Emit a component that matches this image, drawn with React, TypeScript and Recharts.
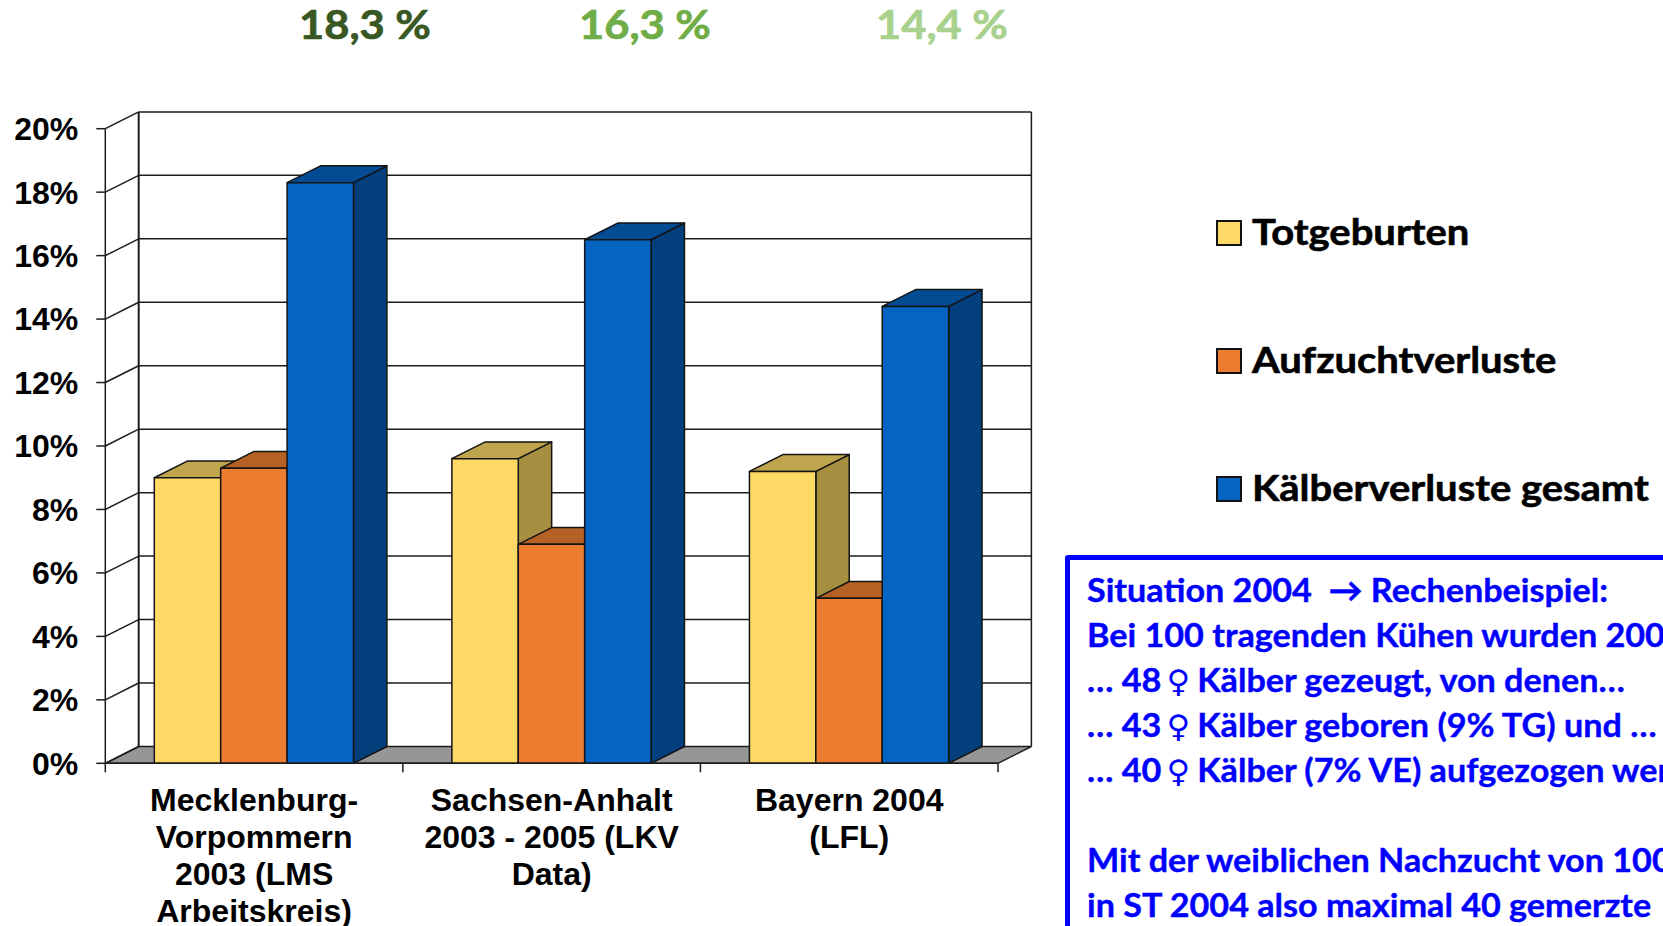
import { BarChart, Bar, XAxis, YAxis, CartesianGrid, Legend } from "recharts";

const categoryLines = [
  ["Mecklenburg-", "Vorpommern", "2003 (LMS", "Arbeitskreis)"],
  ["Sachsen-Anhalt", "2003 - 2005 (LKV", "Data)"],
  ["Bayern 2004", "(LFL)"],
];
const categories = categoryLines.map((l) => l.join(" "));
const totgeburten = [9.0, 9.6, 9.2];
const aufzucht = [9.3, 6.9, 5.2];
const gesamt = [18.3, 16.5, 14.4];
const yTicks = [0, 2, 4, 6, 8, 10, 12, 14, 16, 18, 20];

const topLabels = ["18,3 %", "16,3 %", "14,4 %"];
const topColors = ["#385723", "#70AD47", "#A9D18E"];
const topCenters = [365, 645, 942];

const boxLines = [
  "Situation 2004  → Rechenbeispiel:",
  "Bei 100 tragenden Kühen wurden 2004",
  "… 48 ♀ Kälber gezeugt, von denen…",
  "… 43 ♀ Kälber geboren (9% TG) und …",
  "… 40 ♀ Kälber (7% VE) aufgezogen werden.",
  "\u00a0",
  "Mit der weiblichen Nachzucht von 100",
  "in ST 2004 also maximal 40 gemerzte",
];

const data = categories.map((name, i) => ({
  name,
  totgeburten: totgeburten[i],
  aufzucht: aufzucht[i],
  gesamt: gesamt[i],
}));

// depth of the fake 3D
const DX = 33.4;
const DY = 16.8;
const LINE = "#1c1c1c";
const ARIAL = "'Liberation Sans', Arial, sans-serif";
const LATO = "Lato, sans-serif";

const box3d = (top: string, side: string) => (props: any) => {
  const { x, y, width: w, height: h, fill } = props;
  return (
    <g stroke="#141414" strokeWidth={1.5} strokeLinejoin="round">
      <polygon fill={side} points={`${x + w},${y} ${x + w + DX},${y - DY} ${x + w + DX},${y + h - DY} ${x + w},${y + h}`} />
      <polygon fill={top} points={`${x},${y} ${x + DX},${y - DY} ${x + w + DX},${y - DY} ${x + w},${y}`} />
      <rect x={x} y={y} width={w} height={h} fill={fill} />
    </g>
  );
};

function wallLine(p: any) {
  const { x1, x2, y1, x, y, width, height, index } = p;
  const isFloor = Math.abs(y1 - (y + height)) < 0.5;
  return (
    <g key={`wall-${index}`} stroke={LINE} strokeWidth={1.5} fill="none">
      {isFloor && (
        <>
          <polygon
            fill="#969696"
            points={`${x},${y1} ${x + DX},${y1 - DY} ${x + width + DX},${y1 - DY} ${x + width},${y1}`}
          />
          <line x1={x + DX} y1={y - DY} x2={x + DX} y2={y1 - DY} strokeWidth={2} />
          <line x1={x + width + DX} y1={y - DY} x2={x + width + DX} y2={y1 - DY} />
        </>
      )}
      {!isFloor && <line x1={x1 + DX} y1={y1 - DY} x2={x2 + DX} y2={y1 - DY} />}
      <line x1={x1} y1={y1} x2={x1 + DX} y2={y1 - DY} />
    </g>
  );
}

function CategoryTick(props: any) {
  const { x, y, index, width } = props;
  const half = width / categories.length / 2;
  const base = y - 8; // axis line, tick y already has the default gap in it
  return (
    <g>
      <line x1={x - half} y1={base} x2={x - half} y2={base + 9} stroke={LINE} strokeWidth={1.5} />
      {index === categories.length - 1 && (
        <line x1={x + half} y1={base} x2={x + half} y2={base + 9} stroke={LINE} strokeWidth={1.5} />
      )}
      <text textAnchor="middle" fontFamily={ARIAL} fontWeight={700} fontSize={32} fill="#000">
        {categoryLines[index].map((t, i) => (
          <tspan key={t} x={x} y={base + 47.5 + i * 37}>
            {t}
          </tspan>
        ))}
      </text>
    </g>
  );
}

function LegendBlock({ payload }: any) {
  return (
    <div>
      {payload.map((e: any) => (
        <div key={e.value} style={{ display: "flex", alignItems: "center", height: 128, lineHeight: "128px" }}>
          <span
            style={{
              width: 22,
              height: 22,
              border: "2px solid #111",
              background: e.color,
              marginRight: 10,
              display: "inline-block",
            }}
          />
          <span
            style={{
              fontFamily: LATO,
              fontWeight: 700,
              fontSize: 37,
              color: "#000",
              whiteSpace: "nowrap",
              transform: "scaleX(1.08) translateY(-2px)",
              transformOrigin: "left center",
              WebkitTextStroke: "0.6px #000",
            }}
          >
            {e.value}
          </span>
        </div>
      ))}
    </div>
  );
}

function BoxLine({ text }: { text: string }) {
  const parts = text.split("♀");
  return (
    <div style={{ height: 45 }}>
      {parts.map((part, i) => (
        <span key={i}>
          {i > 0 && (
            <span
              style={{
                fontFamily: "'DejaVu Sans'",
                fontWeight: 400,
                fontSize: 31,
                lineHeight: "1px",
                marginLeft: -3,
                marginRight: -1,
                WebkitTextStroke: "0",
              }}
            >
              ♀
            </span>
          )}
          {part}
        </span>
      ))}
    </div>
  );
}

export default function App() {
  return (
    <div style={{ position: "absolute", left: 0, top: 0, width: 1663, height: 926, overflow: "hidden", background: "#fff" }}>
      {topLabels.map((t, i) => (
        <div
          key={t}
          style={{
            position: "absolute",
            left: topCenters[i] - 100,
            width: 200,
            top: 1,
            textAlign: "center",
            fontFamily: LATO,
            fontWeight: 700,
            fontSize: 41,
            lineHeight: "46px",
            color: topColors[i],
            transform: "scaleX(1.06)",
            WebkitTextStroke: `0.7px ${topColors[i]}`,
          }}
        >
          {t}
        </div>
      ))}

      <BarChart
        width={1663}
        height={926}
        data={data}
        margin={{ top: 128.7, right: 665, left: 0, bottom: 0 }}
        barSize={66.4}
        barGap={0}
      >
        <CartesianGrid vertical={false} horizontal={wallLine} />
        <XAxis dataKey="name" height={162.7} interval={0} tick={<CategoryTick />} tickLine={false} axisLine={{ stroke: LINE, strokeWidth: 1.5 }} />
        <YAxis
          width={105.3}
          domain={[0, 20]}
          ticks={yTicks}
          interval={0}
          tickSize={9}
          tickMargin={18}
          tickFormatter={(v) => `${v}%`}
          tick={{ fontFamily: ARIAL, fontWeight: 700, fontSize: 32, fill: "#000" }}
          tickLine={{ stroke: LINE, strokeWidth: 1.5 }}
          axisLine={{ stroke: LINE, strokeWidth: 1.5 }}
        />
        <Legend
          layout="horizontal"
          verticalAlign="middle"
          align="center"
          itemSorter={null}
          content={<LegendBlock />}
          wrapperStyle={{ left: 1216, top: 169, width: 447, height: 384 }}
        />
        <Bar dataKey="totgeburten" name="Totgeburten" fill="#FFD966" isAnimationActive={false} shape={box3d("#BFA54D", "#A68F40")} />
        <Bar dataKey="aufzucht" name="Aufzuchtverluste" fill="#ED7D31" isAnimationActive={false} shape={box3d("#B56024", "#A4571F")} />
        <Bar dataKey="gesamt" name="Kälberverluste gesamt" fill="#0563C1" isAnimationActive={false} shape={box3d("#034C94", "#033F7D")} />
      </BarChart>

      <div
        style={{
          position: "absolute",
          left: 1065,
          top: 555,
          width: 800,
          height: 600,
          border: "5px solid #0000FF",
          borderRadius: 3,
        }}
      />
      <div
        style={{
          position: "absolute",
          left: 1087,
          top: 567,
          fontFamily: LATO,
          fontWeight: 700,
          fontSize: 33,
          lineHeight: "45px",
          color: "#0000FF",
          whiteSpace: "pre",
          transform: "scaleX(1.035)",
          transformOrigin: "left top",
          WebkitTextStroke: "0.4px #0000FF",
        }}
      >
        {boxLines.map((l) => (
          <BoxLine key={l} text={l} />
        ))}
      </div>
    </div>
  );
}
